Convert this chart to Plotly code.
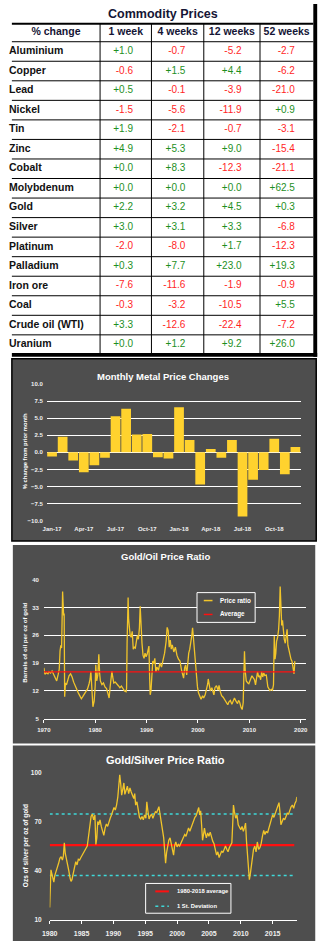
import plotly.graph_objects as go

W, H = 325, 946
def px(x): return x / W
def py(y): return 1 - y / H

# ---------------- Table data ----------------
headers = ["% change", "1 week", "4 weeks", "12 weeks", "52 weeks"]
metals = ["Aluminium", "Copper", "Lead", "Nickel", "Tin", "Zinc", "Cobalt", "Molybdenum",
          "Gold", "Silver", "Platinum", "Palladium", "Iron ore", "Coal", "Crude oil (WTI)", "Uranium"]
week1 = [1.0, -0.6, 0.5, -1.5, 1.9, 4.9, 0.0, 0.0, 2.2, 3.0, -2.0, 0.3, -7.6, -0.3, 3.3, 0.0]
week4 = [-0.7, 1.5, -0.1, -5.6, -2.1, 5.3, 8.3, 0.0, 3.2, 3.1, -8.0, 7.7, -11.6, -3.2, -12.6, 1.2]
week12 = [-5.2, 4.4, -3.9, -11.9, -0.7, 9.0, -12.3, 0.0, 4.5, 3.3, 1.7, 23.0, -1.9, -10.5, -22.4, 9.2]
week52 = [-2.7, -6.2, -21.0, 0.9, -3.1, -15.4, -21.1, 62.5, 0.3, -6.8, -12.3, 19.3, -0.9, 5.5, -7.2, 26.0]

# ---------------- Monthly metal price changes ----------------
months = ["Jan-17", "Feb-17", "Mar-17", "Apr-17", "May-17", "Jun-17", "Jul-17", "Aug-17",
          "Sep-17", "Oct-17", "Nov-17", "Dec-17", "Jan-18", "Feb-18", "Mar-18", "Apr-18",
          "May-18", "Jun-18", "Jul-18", "Aug-18", "Sep-18", "Oct-18", "Nov-18", "Dec-18"]
monthly_change = [-0.6, 2.3, -1.2, -2.9, -1.9, -0.8, 5.3, 6.4, 2.6, 2.7, -0.7, -0.9,
                  6.6, 1.8, -4.7, 0.5, -0.8, 1.8, -9.4, -4.0, -2.6, 2.0, -3.2, 0.8]

# ---------------- Gold/Oil ratio ----------------
goldoil_year = [1970.0, 1970.2, 1970.5, 1970.8, 1971.0, 1971.3, 1971.6, 1971.9, 1972.2, 1972.5,
                1972.8, 1973.0, 1973.15, 1973.3, 1973.45, 1973.55, 1973.65, 1973.75, 1973.85, 1973.95,
                1974.05, 1974.2, 1974.4, 1974.6, 1974.9, 1975.2, 1975.5, 1975.8, 1976.1, 1976.4,
                1976.7, 1977.0, 1977.3, 1977.6, 1977.9, 1978.2, 1978.5, 1978.8, 1979.0, 1979.15,
                1979.35, 1979.55, 1979.8, 1980.0, 1980.1, 1980.3, 1980.5, 1980.7, 1980.85, 1981.0,
                1981.3, 1981.6, 1981.9, 1982.2, 1982.5, 1982.7, 1982.9, 1983.1, 1983.25, 1983.4,
                1983.6, 1983.9, 1984.2, 1984.5, 1984.8, 1985.1, 1985.4, 1985.7, 1986.0, 1986.1,
                1986.2, 1986.3, 1986.4, 1986.5, 1986.65, 1986.8, 1987.0, 1987.2, 1987.4, 1987.6,
                1987.8, 1988.0, 1988.2, 1988.4, 1988.6, 1988.75, 1988.9, 1989.1, 1989.3, 1989.5,
                1989.7, 1989.9, 1990.1, 1990.3, 1990.45, 1990.6, 1990.7, 1990.85, 1991.0, 1991.2,
                1991.4, 1991.6, 1991.8, 1992.0, 1992.3, 1992.6, 1992.9, 1993.2, 1993.5, 1993.8,
                1994.0, 1994.2, 1994.4, 1994.6, 1994.8, 1995.0, 1995.3, 1995.6, 1995.9, 1996.2,
                1996.5, 1996.8, 1997.0, 1997.2, 1997.4, 1997.6, 1997.8, 1998.0, 1998.2, 1998.4,
                1998.6, 1998.8, 1998.95, 1999.1, 1999.3, 1999.5, 1999.7, 1999.9, 2000.1, 2000.3,
                2000.6, 2000.9, 2001.1, 2001.4, 2001.7, 2001.9, 2002.0, 2002.2, 2002.4, 2002.7,
                2002.9, 2003.1, 2003.3, 2003.6, 2003.9, 2004.1, 2004.3, 2004.6, 2004.9, 2005.2,
                2005.5, 2005.8, 2006.0, 2006.3, 2006.6, 2006.9, 2007.1, 2007.4, 2007.7, 2007.9,
                2008.1, 2008.4, 2008.6, 2008.8, 2008.95, 2009.05, 2009.2, 2009.4, 2009.7, 2009.9,
                2010.2, 2010.5, 2010.8, 2011.0, 2011.2, 2011.4, 2011.6, 2011.8, 2012.0, 2012.2,
                2012.4, 2012.6, 2012.8, 2013.0, 2013.3, 2013.6, 2013.8, 2014.0, 2014.3, 2014.5,
                2014.7, 2014.85, 2015.0, 2015.15, 2015.3, 2015.5, 2015.7, 2015.85, 2016.0, 2016.15,
                2016.3, 2016.45, 2016.6, 2016.8, 2017.0, 2017.2, 2017.35, 2017.5, 2017.7, 2017.9,
                2018.1, 2018.3, 2018.5, 2018.7, 2018.85]
goldoil_ratio = [17.8, 16.2, 16.6, 16.3, 16.8, 16.5, 17.0, 16.0, 15.2, 14.5,
                 16.2, 17.5, 22.0, 23.5, 22.8, 30.0, 37.0, 34.0, 31.0, 31.5,
                 10.5, 14.0, 13.5, 14.8, 15.8, 16.3, 15.5, 14.2, 13.0, 12.4,
                 11.5, 10.8, 10.0, 10.6, 11.2, 11.8, 12.5, 13.8, 15.0, 16.9,
                 12.0, 8.0, 9.5, 13.5, 18.6, 14.5, 16.0, 21.2, 16.5, 14.5,
                 13.6, 14.0, 13.0, 12.6, 11.2, 10.2, 13.0, 15.0, 17.0, 15.5,
                 14.0, 14.2, 13.6, 13.3, 12.8, 13.2, 12.6, 12.0, 11.8, 12.6,
                 24.0, 29.0, 35.5, 30.0, 28.5, 26.0, 25.5, 27.0, 22.5, 23.0,
                 22.8, 24.5, 26.0, 25.0, 27.8, 33.3, 27.0, 24.0, 21.0, 20.2,
                 21.5, 20.6, 21.2, 22.5, 23.3, 15.0, 11.0, 12.0, 17.5, 19.5,
                 18.8, 20.2, 16.8, 18.0, 17.2, 19.0, 18.0, 19.6, 21.5, 24.5,
                 28.0, 27.2, 23.0, 24.8, 22.5, 23.6, 21.8, 23.0, 21.0, 20.0,
                 19.5, 17.2, 16.0, 15.2, 17.8, 18.5, 16.0, 19.5, 21.5, 22.5,
                 24.0, 26.0, 27.9, 25.5, 21.0, 18.0, 15.5, 13.0, 11.5, 10.8,
                 9.9, 10.8, 10.2, 11.0, 12.5, 13.8, 15.0, 13.5, 12.0, 12.8,
                 11.5, 11.0, 12.8, 13.3, 12.2, 13.4, 12.0, 10.8, 10.4, 9.8,
                 9.3, 8.5, 9.2, 9.6, 8.6, 9.5, 10.2, 9.4, 8.8, 9.6,
                 9.2, 7.8, 7.3, 9.0, 15.0, 22.0, 17.0, 14.5, 14.0, 13.8,
                 14.8, 15.8, 15.2, 14.8, 13.5, 16.0, 16.8, 15.5, 15.8, 14.8,
                 16.8, 15.5, 16.5, 15.9, 16.0, 13.0, 12.4, 12.1, 12.4, 12.2,
                 13.5, 25.8, 20.0, 21.5, 24.5, 25.5, 27.5, 31.0, 38.3, 33.5,
                 28.5, 29.8, 26.8, 25.0, 24.0, 26.5, 27.5, 23.5, 22.0, 21.2,
                 20.0, 19.5, 18.0, 16.3, 19.5]
goldoil_avg_years = [1970.0, 2018.9]
goldoil_avg = [16.8, 16.8]

# ---------------- Gold/Silver ratio ----------------
goldsilver_year = [1980.0, 1980.1, 1980.2, 1980.35, 1980.5, 1980.65, 1980.8, 1981.0, 1981.2, 1981.4,
                   1981.6, 1981.8, 1982.0, 1982.15, 1982.3, 1982.45, 1982.6, 1982.8, 1983.0, 1983.2,
                   1983.35, 1983.5, 1983.7, 1983.9, 1984.1, 1984.3, 1984.5, 1984.7, 1984.9, 1985.1,
                   1985.3, 1985.5, 1985.7, 1985.9, 1986.1, 1986.3, 1986.5, 1986.7, 1986.9, 1987.1,
                   1987.25, 1987.4, 1987.55, 1987.7, 1987.9, 1988.1, 1988.3, 1988.5, 1988.7, 1988.9,
                   1989.1, 1989.3, 1989.5, 1989.7, 1989.9, 1990.1, 1990.3, 1990.5, 1990.7, 1990.85,
                   1991.0, 1991.15, 1991.3, 1991.5, 1991.65, 1991.8, 1992.0, 1992.2, 1992.4, 1992.6,
                   1992.8, 1993.0, 1993.2, 1993.35, 1993.5, 1993.7, 1993.9, 1994.1, 1994.3, 1994.5,
                   1994.7, 1994.9, 1995.1, 1995.25, 1995.4, 1995.6, 1995.8, 1996.0, 1996.2, 1996.4,
                   1996.6, 1996.8, 1997.0, 1997.15, 1997.3, 1997.5, 1997.7, 1997.9, 1998.05, 1998.2,
                   1998.35, 1998.5, 1998.7, 1998.9, 1999.1, 1999.3, 1999.45, 1999.6, 1999.8, 2000.0,
                   2000.2, 2000.4, 2000.6, 2000.8, 2001.0, 2001.2, 2001.4, 2001.6, 2001.8, 2002.0,
                   2002.2, 2002.4, 2002.6, 2002.8, 2003.0, 2003.2, 2003.4, 2003.55, 2003.7, 2003.85,
                   2004.0, 2004.15, 2004.3, 2004.45, 2004.6, 2004.8, 2005.0, 2005.2, 2005.4, 2005.6,
                   2005.8, 2006.0, 2006.2, 2006.4, 2006.6, 2006.8, 2007.0, 2007.2, 2007.4, 2007.6,
                   2007.8, 2008.0, 2008.2, 2008.4, 2008.6, 2008.75, 2008.85, 2009.0, 2009.2, 2009.4,
                   2009.6, 2009.8, 2010.0, 2010.2, 2010.4, 2010.6, 2010.75, 2010.9, 2011.1, 2011.25,
                   2011.35, 2011.5, 2011.7, 2011.85, 2012.0, 2012.2, 2012.4, 2012.6, 2012.8, 2013.0,
                   2013.2, 2013.4, 2013.6, 2013.8, 2014.0, 2014.2, 2014.4, 2014.6, 2014.8, 2015.0,
                   2015.2, 2015.4, 2015.6, 2015.8, 2016.0, 2016.15, 2016.3, 2016.5, 2016.7, 2016.9,
                   2017.1, 2017.3, 2017.5, 2017.7, 2017.9, 2018.1, 2018.3, 2018.5, 2018.7, 2018.8]
goldsilver_ratio = [17.5, 28.0, 40.5, 38.0, 34.0, 33.0, 37.0, 39.0, 42.0, 44.5,
                    47.5, 48.5, 46.5, 49.0, 57.0, 50.5, 48.0, 44.0, 40.0, 35.5,
                    33.5, 34.5, 37.5, 42.0, 45.5, 43.5, 47.0, 46.5, 48.0, 49.5,
                    50.5, 52.0, 53.0, 55.0, 61.0, 66.0, 73.0, 74.5, 71.0, 74.0,
                    56.0, 60.0, 70.0, 68.0, 71.0, 67.0, 64.0, 61.5, 66.0, 68.5,
                    67.0, 70.0, 72.0, 74.0, 76.0, 78.5, 77.0, 80.0, 85.0, 95.0,
                    98.5, 93.0, 86.0, 90.0, 93.5, 86.5, 89.0, 91.5, 87.0, 90.5,
                    88.0, 86.0, 84.0, 87.0, 80.0, 82.0, 76.0, 72.5, 71.5, 73.0,
                    71.0, 74.0, 72.0, 82.0, 77.0, 71.5, 73.5, 74.5, 72.0, 74.0,
                    76.0, 75.5, 77.5, 79.0, 75.0, 71.0, 65.0, 60.0, 52.0, 44.5,
                    51.0, 55.5, 58.5, 60.0, 56.0, 52.0, 49.5, 55.0, 57.5, 54.5,
                    56.0, 55.0, 57.0, 58.5, 60.0, 62.0, 61.0, 64.5, 66.0, 64.0,
                    66.5, 68.0, 70.0, 72.5, 73.5, 76.0, 78.5, 74.0, 76.5, 68.0,
                    58.5, 62.0, 66.0, 62.5, 60.0, 63.0, 61.0, 63.5, 60.5, 58.0,
                    56.5, 53.0, 49.5, 51.5, 48.0, 50.0, 52.0, 51.0, 53.5, 55.0,
                    53.0, 51.5, 54.0, 56.0, 57.0, 70.0, 80.0, 76.0, 72.0, 74.0,
                    68.0, 66.5, 65.0, 67.0, 64.0, 66.5, 69.0, 58.0, 48.0, 39.0,
                    34.5, 38.0, 45.0, 51.0, 53.0, 55.0, 51.5, 57.5, 53.0, 54.0,
                    56.5, 61.0, 64.5, 62.0, 64.0, 63.0, 66.0, 68.5, 71.0, 74.0,
                    72.5, 75.0, 77.0, 79.0, 81.5, 76.0, 68.0, 70.0, 72.0, 71.0,
                    73.0, 75.0, 74.5, 77.0, 79.0, 80.0, 78.0, 81.0, 82.5, 85.0]
gs_ref_years = [1980.0, 2018.4]
gs_average = [55.6, 55.6]
gs_upper = [74.6, 74.6]
gs_lower = [37.0, 37.0]

# ---------------- Styles ----------------
GREEN = "#1e8f1e"
RED = "#ff1f1f"
NAVY = "#151535"
PANEL = "#4e4e4e"
BAR = "#ffd22e"
GOLDLINE = "#f2c52a"
REDLINE = "#ff1010"
CYAN = "#3fd8d8"
TICKCOL = "#f0f0f0"
SANS = "Liberation Sans"

# table geometry (pixels)
TBL_L, TBL_R = 4, 315
COL_EDGES = [4, 95, 148, 202, 260, 315]
HDR_TOP, HDR_BOT, TBL_BOT = 20, 38, 353
ROW_H = (TBL_BOT - HDR_BOT) / len(metals)
row_centers = [HDR_BOT + ROW_H * (i + 0.5) for i in range(len(metals))]
row_edges = [HDR_BOT + ROW_H * i for i in range(len(metals) + 1)]

fig = go.Figure()

# ---------------- Table (text marks on a pixel-scaled axis pair) ----------------
def fmt(v):
    return f"{v:+.1f}"

def colour(v):
    return GREEN if v >= 0 else RED

hdr_x = [(COL_EDGES[i] + COL_EDGES[i + 1]) / 2 for i in range(5)]
fig.add_trace(go.Scatter(x=hdr_x, y=[(HDR_TOP + HDR_BOT) / 2] * 5, mode="text",
                         text=[f"<b>{h}</b>" for h in headers], textposition="middle center",
                         textfont=dict(family=SANS, size=10.5, color=NAVY),
                         xaxis="x4", yaxis="y4", showlegend=False, hoverinfo="skip"))
fig.add_trace(go.Scatter(x=[COL_EDGES[0] - 3] * len(metals), y=row_centers, mode="text",
                         text=[f"<b>{m}</b>" for m in metals], textposition="middle right",
                         textfont=dict(family=SANS, size=10.5, color="#111111"),
                         xaxis="x4", yaxis="y4", showlegend=False, hoverinfo="skip"))
for ci, col in enumerate([week1, week4, week12, week52]):
    fig.add_trace(go.Scatter(x=[COL_EDGES[ci + 2] - 19] * len(col), y=row_centers, mode="text",
                             text=[fmt(v) for v in col], textposition="middle left",
                             textfont=dict(family=SANS, size=10, color=[colour(v) for v in col]),
                             xaxis="x4", yaxis="y4", showlegend=False, hoverinfo="skip"))

# ---------------- Bar chart ----------------
fig.add_trace(go.Bar(x=months, y=monthly_change, marker=dict(color=BAR, line=dict(width=0)),
                     xaxis="x", yaxis="y", showlegend=False))

# ---------------- Gold/Oil ----------------
fig.add_trace(go.Scatter(x=goldoil_year, y=goldoil_ratio, mode="lines",
                         line=dict(color=GOLDLINE, width=1.3), xaxis="x2", yaxis="y2",
                         name="Price ratio", showlegend=False))
fig.add_trace(go.Scatter(x=goldoil_avg_years, y=goldoil_avg, mode="lines",
                         line=dict(color=REDLINE, width=1.3), xaxis="x2", yaxis="y2",
                         name="Average", showlegend=False))

# ---------------- Gold/Silver ----------------
for yy, c, w, d in [(gs_upper, CYAN, 1.5, "dot"), (gs_lower, CYAN, 1.5, "dot"),
                    (gs_average, REDLINE, 2.2, "solid")]:
    fig.add_trace(go.Scatter(x=gs_ref_years, y=yy, mode="lines",
                             line=dict(color=c, width=w, dash=d), xaxis="x3", yaxis="y3",
                             showlegend=False))
fig.add_trace(go.Scatter(x=goldsilver_year, y=goldsilver_ratio, mode="lines",
                         line=dict(color=GOLDLINE, width=1.3), xaxis="x3", yaxis="y3",
                         showlegend=False))

tickfont = dict(family=SANS, size=6, color=TICKCOL, weight="bold")

fig.update_layout(
    width=W, height=H, margin=dict(l=0, r=0, t=0, b=0),
    paper_bgcolor="white", plot_bgcolor="rgba(0,0,0,0)",
    showlegend=False, bargap=0.08,
    xaxis=dict(domain=[px(40), px(302)], anchor="y", type="category",
               tickvals=months[::3], tickfont=tickfont, showgrid=False, showline=False,
               ticks="", ticklabelstandoff=3),
    yaxis=dict(domain=[py(520.7), py(382.7)], anchor="x", range=[-10.03, 10.03], dtick=2.5,
               tick0=0, tickformat=".1f", tickfont=tickfont, showgrid=True, gridcolor="white",
               gridwidth=1, zeroline=True, zerolinecolor="white", zerolinewidth=1,
               showline=False, ticks="", ticklabelstandoff=3),
    xaxis2=dict(domain=[px(37), px(307)], anchor="y2", range=[1970, 2020.94],
                tickvals=[1970, 1980, 1990, 2000, 2010, 2020], tickfont=tickfont,
                showgrid=False, showline=True, linecolor="white", linewidth=1,
                ticks="outside", ticklen=3, tickcolor="white", ticklabelstandoff=2),
    yaxis2=dict(domain=[py(720), py(580)], anchor="x2", range=[5, 40],
                tickvals=[5, 12, 19, 26, 33, 40], tickfont=tickfont, showgrid=True,
                gridcolor="white", gridwidth=1, zeroline=False, showline=False, ticks="",
                ticklabelstandoff=4),
    xaxis3=dict(domain=[px(43), px(298)], anchor="y3", range=[1980, 2018.8],
                tickvals=[1980, 1985, 1990, 1995, 2000, 2005, 2010, 2015],
                tickfont=dict(family=SANS, size=7, color=TICKCOL, weight="bold"),
                showgrid=False, showline=True, linecolor="white", linewidth=1,
                ticks="outside", ticklen=3, tickcolor="white", ticklabelstandoff=4),
    yaxis3=dict(domain=[py(922.7), py(774)], anchor="x3", range=[10, 100],
                tickvals=[10, 40, 70, 100],
                tickfont=dict(family=SANS, size=6.5, color=TICKCOL, weight="bold"),
                showgrid=False, zeroline=False, showline=False, ticks="", ticklabelstandoff=7),
    xaxis4=dict(domain=[0, px(TBL_R)], anchor="y4", range=[0, TBL_R],
                visible=False, fixedrange=True),
    yaxis4=dict(domain=[py(TBL_BOT), py(HDR_TOP)], anchor="x4", range=[TBL_BOT, HDR_TOP],
                visible=False, fixedrange=True),
)

# ---------------- Panels & table borders ----------------
shapes = [
    dict(type="rect", xref="paper", yref="paper", x0=px(4), x1=px(318), y0=py(541), y1=py(357.5),
         fillcolor=PANEL, line=dict(color="black", width=1.5), layer="below"),
    dict(type="rect", xref="paper", yref="paper", x0=px(5), x1=px(317), y0=py(745), y1=py(545),
         fillcolor=PANEL, line=dict(width=0), layer="below"),
    dict(type="rect", xref="paper", yref="paper", x0=px(5), x1=px(317), y0=py(944), y1=py(747),
         fillcolor=PANEL, line=dict(width=0), layer="below"),
]
# table grid lines
for ye in row_edges[:-1]:
    shapes.append(dict(type="line", xref="paper", yref="paper", x0=px(TBL_L), x1=px(TBL_R),
                       y0=py(ye), y1=py(ye), line=dict(color="black", width=1)))
for xe in COL_EDGES[1:-1]:
    shapes.append(dict(type="line", xref="paper", yref="paper", x0=px(xe), x1=px(xe),
                       y0=py(HDR_TOP), y1=py(TBL_BOT), line=dict(color="black", width=1)))
shapes += [
    dict(type="rect", xref="paper", yref="paper", x0=px(315), x1=px(319), y0=py(355.5), y1=py(0),
         fillcolor="black", line=dict(width=0)),
    dict(type="rect", xref="paper", yref="paper", x0=px(4), x1=px(319), y0=py(355.5), y1=py(351.5),
         fillcolor="black", line=dict(width=0)),
    dict(type="rect", xref="paper", yref="paper", x0=px(4), x1=px(315), y0=py(21), y1=py(19),
         fillcolor="black", line=dict(width=0)),
    # legend boxes
    dict(type="rect", xref="paper", yref="paper", x0=px(195), x1=px(255), y0=py(623), y1=py(593),
         fillcolor=PANEL, line=dict(color="white", width=1)),
    dict(type="line", xref="paper", yref="paper", x0=px(202), x1=px(211), y0=py(601), y1=py(601),
         line=dict(color=GOLDLINE, width=1.5)),
    dict(type="line", xref="paper", yref="paper", x0=px(202), x1=px(211), y0=py(615), y1=py(615),
         line=dict(color=REDLINE, width=1.5)),
    dict(type="rect", xref="paper", yref="paper", x0=px(142), x1=px(230), y0=py(916), y1=py(886),
         fillcolor=PANEL, line=dict(color="white", width=1)),
    dict(type="line", xref="paper", yref="paper", x0=px(152), x1=px(166), y0=py(894), y1=py(894),
         line=dict(color=REDLINE, width=2)),
    dict(type="line", xref="paper", yref="paper", x0=px(152), x1=px(166), y0=py(909), y1=py(909),
         line=dict(color=CYAN, width=1.5, dash="dot")),
]
fig.update_layout(shapes=shapes)

def ann(text, x, y, size, color="white", xanchor="center", angle=0, family=SANS):
    return dict(text=text, x=px(x), y=py(y), xref="paper", yref="paper", showarrow=False,
                xanchor=xanchor, yanchor="middle", textangle=angle,
                font=dict(family=family, size=size, color=color))

annotations = [
    ann("<b>Commodity Prices</b>", 160, 10.5, 12.5, color=NAVY),
    ann("<b>Monthly Metal Price Changes</b>", 160, 375, 9.5),
    ann("<b>Gold/Oil Price Ratio</b>", 162, 557, 9.5),
    ann("<b>Gold/Silver Price Ratio</b>", 162, 762, 11),
    ann("<b>% change from prior month</b>", 17, 450, 5.8, angle=-90),
    ann("<b>Barrels of oil per oz of gold</b>", 17, 643, 6.2, angle=-90),
    ann("<b>Ozs of silver per oz of gold</b>", 18, 848, 6.5, angle=-90),
    ann("<b>Price ratio</b>", 217, 601, 6.3, xanchor="left"),
    ann("<b>Average</b>", 217, 615, 6.3, xanchor="left"),
    ann("<b>1980-2018 average</b>", 172, 894, 5.8, xanchor="left"),
    ann("<b>1 St. Deviation</b>", 172, 909, 5.8, xanchor="left"),
]
fig.update_layout(annotations=annotations)

fig.write_html("out.html")
